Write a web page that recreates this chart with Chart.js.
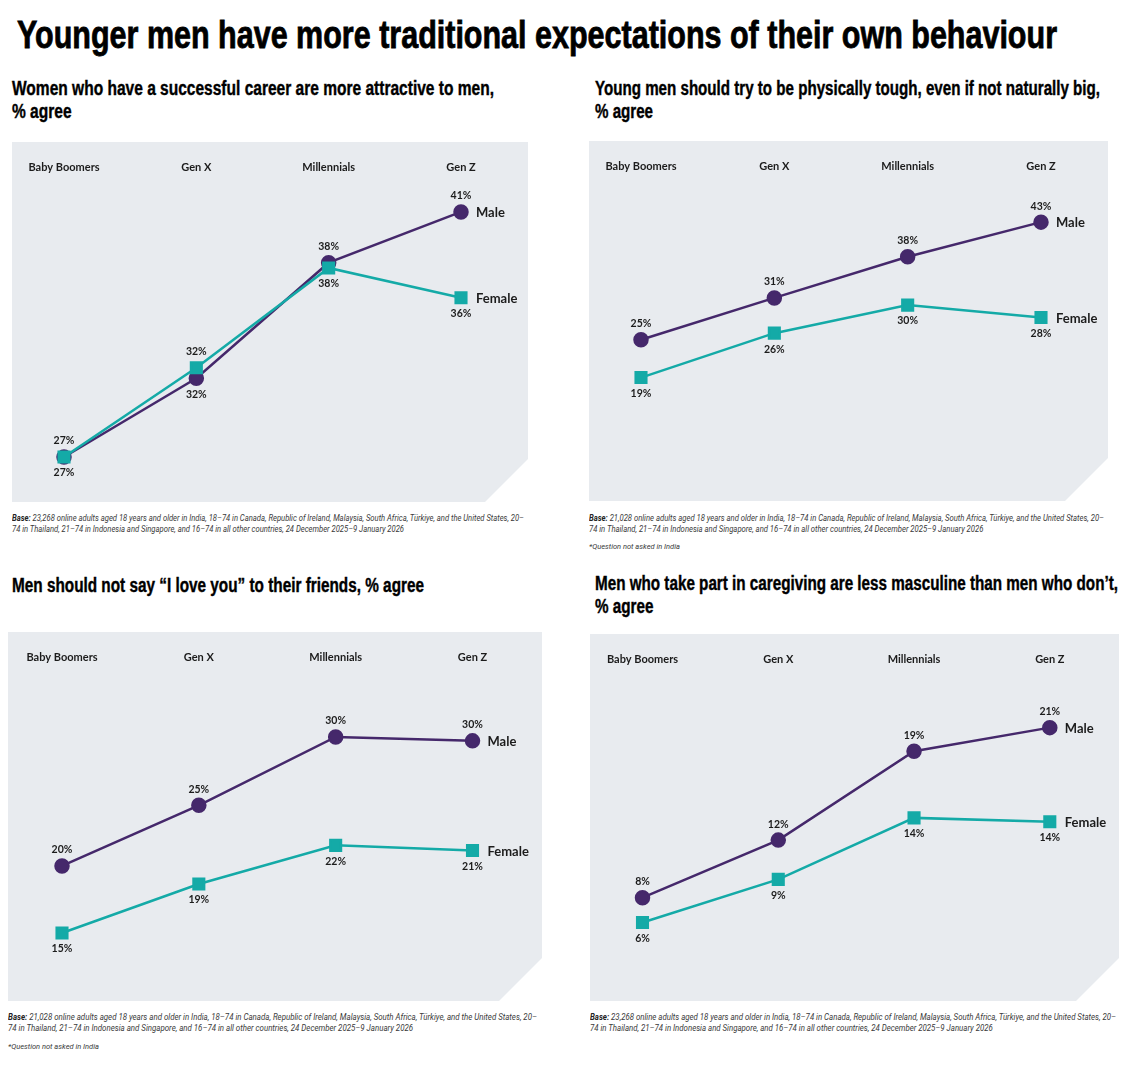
<!DOCTYPE html>
<html>
<head>
<meta charset="utf-8">
<script src="https://cdn.jsdelivr.net/npm/chart.js@4.4.1/dist/chart.umd.min.js"></script>
<style>
  html, body { margin: 0; padding: 0; background: #fff; }
  body { width: 1148px; height: 1082px; position: relative; overflow: hidden; color: #111; }
  .abs { position: absolute; white-space: pre; transform-origin: left top; }
  .title { font-family: "Liberation Sans Narrow", sans-serif; font-weight: bold; font-size: 38px; line-height: 44px; -webkit-text-stroke: 0.8px #000; color: #000; }
  .sub { font-family: "Liberation Sans Narrow", sans-serif; font-weight: bold; font-size: 20px; line-height: 23px; -webkit-text-stroke: 0.4px #000; color: #000; }
  .base { font-family: Roboto, sans-serif; font-style: italic; font-size: 8.5px; line-height: 11px; color: #3a3a3a; }
  .base b { font-weight: bold; color: #222; }
  .note { font-family: Roboto, sans-serif; font-style: italic; font-size: 7.5px; line-height: 11px; color: #3a3a3a; }
  .box { position: absolute; }
</style>
</head>
<body>

<div class="abs title fit" data-w="1040" style="left:17px; top:13px;">Younger men have more traditional expectations of their own behaviour</div>

<div class="abs sub fit" data-w="482" style="left:12px; top:77px;">Women who have a successful career are more attractive to men,
% agree</div>
<div class="abs sub fit" data-w="505" style="left:595px; top:77px;">Young men should try to be physically tough, even if not naturally big,
% agree</div>
<div class="abs sub fit" data-w="412" style="left:12px; top:574px;">Men should not say “I love you” to their friends, % agree</div>
<div class="abs sub fit" data-w="523" style="left:595px; top:572px;">Men who take part in caregiving are less masculine than men who don’t,
% agree</div>

<div class="box" style="left:12px; top:142px; width:516px; height:360px;"><canvas id="chart-career"></canvas></div>
<div class="box" style="left:589px; top:141px; width:519px; height:360px;"><canvas id="chart-tough"></canvas></div>
<div class="box" style="left:8px; top:632px; width:534px; height:369px;"><canvas id="chart-love"></canvas></div>
<div class="box" style="left:590px; top:634px; width:529px; height:367px;"><canvas id="chart-care"></canvas></div>

<div class="abs base fit" data-w="512" style="left:12px; top:513px;"><b>Base:</b> 23,268 online adults aged 18 years and older in India, 18–74 in Canada, Republic of Ireland, Malaysia, South Africa, Türkiye, and the United States, 20–
74 in Thailand, 21–74 in Indonesia and Singapore, and 16–74 in all other countries, 24 December 2025–9 January 2026</div>
<div class="abs base fit" data-w="515" style="left:589px; top:513px;"><b>Base:</b> 21,028 online adults aged 18 years and older in India, 18–74 in Canada, Republic of Ireland, Malaysia, South Africa, Türkiye, and the United States, 20–
74 in Thailand, 21–74 in Indonesia and Singapore, and 16–74 in all other countries, 24 December 2025–9 January 2026</div>
<div class="abs note" style="left:589px; top:541px;">*Question not asked in India</div>
<div class="abs base fit" data-w="529" style="left:8px; top:1012px;"><b>Base:</b> 21,028 online adults aged 18 years and older in India, 18–74 in Canada, Republic of Ireland, Malaysia, South Africa, Türkiye, and the United States, 20–
74 in Thailand, 21–74 in Indonesia and Singapore, and 16–74 in all other countries, 24 December 2025–9 January 2026</div>
<div class="abs note" style="left:8px; top:1041px;">*Question not asked in India</div>
<div class="abs base fit" data-w="526" style="left:590px; top:1012px;"><b>Base:</b> 23,268 online adults aged 18 years and older in India, 18–74 in Canada, Republic of Ireland, Malaysia, South Africa, Türkiye, and the United States, 20–
74 in Thailand, 21–74 in Indonesia and Singapore, and 16–74 in all other countries, 24 December 2025–9 January 2026</div>

<script>
// DATA
const generations = ['Baby Boomers', 'Gen X', 'Millennials', 'Gen Z'];

const careerMale = [27, 31.5, 38.1, 41];
const careerFemale = [27, 32.1, 37.8, 36.1];

const toughMale = [25, 31.4, 37.7, 43];
const toughFemale = [19.2, 26, 30.3, 28.4];

const loveMale = [20, 24.7, 30, 29.7];
const loveFemale = [14.8, 18.6, 21.6, 21.2];

const careMale = [8, 12.4, 19.2, 21];
const careFemale = [6.1, 9.4, 14.1, 13.8];

const MALE = '#45286b';
const FEMALE = '#14aaa7';

// grey panel with the bottom-right corner cut off
const panelBg = {
    id: 'panelBg',
    beforeDraw(chart) {
        const {ctx, width, height} = chart;
        const cut = 43;
        ctx.save();
        ctx.fillStyle = '#e8ebef';
        ctx.beginPath();
        ctx.moveTo(0, 0);
        ctx.lineTo(width, 0);
        ctx.lineTo(width, height - cut);
        ctx.lineTo(width - cut, height);
        ctx.lineTo(0, height);
        ctx.closePath();
        ctx.fill();
        ctx.restore();
    }
};

// % labels above the higher series, below the lower one, plus series names
const valueLabels = {
    id: 'valueLabels',
    afterDatasetsDraw(chart) {
        const {ctx, data} = chart;
        ctx.save();
        ctx.fillStyle = '#1c1c1c';
        ctx.textBaseline = 'middle';
        data.datasets.forEach((ds, i) => {
            const other = data.datasets[1 - i].data;
            const pts = chart.getDatasetMeta(i).data;
            ctx.font = '700 10.5px Lato';
            ctx.textAlign = 'center';
            pts.forEach((pt, j) => {
                const v = ds.data[j];
                const up = v > other[j] || (v === other[j] && i === 0);
                ctx.fillText(Math.round(v) + '%', pt.x, pt.y + (up ? -16 : 16));
            });
            const last = pts[pts.length - 1];
            ctx.font = '700 13px Lato';
            ctx.textAlign = 'left';
            ctx.fillText(ds.label, last.x + 15, last.y + 1);
        });
        ctx.restore();
    }
};

function makeChart(id, male, female, yMin, yMax, padLeft, padRight) {
    return new Chart(document.getElementById(id), {
        type: 'line',
        data: {
            labels: generations,
            datasets: [{
                label: 'Male',
                data: male,
                borderColor: MALE,
                backgroundColor: MALE,
                borderWidth: 2.5,
                pointStyle: 'circle',
                pointRadius: 6.5,
                pointHoverRadius: 6.5,
                order: 1
            }, {
                label: 'Female',
                data: female,
                borderColor: FEMALE,
                backgroundColor: FEMALE,
                borderWidth: 2.5,
                pointStyle: 'rect',
                pointRadius: 7.5,
                pointHoverRadius: 7.5,
                order: 0
            }]
        },
        options: {
            responsive: true,
            maintainAspectRatio: false,
            animation: false,
            layout: {
                autoPadding: false,
                padding: {left: padLeft, right: padRight, top: 0, bottom: 0}
            },
            scales: {
                x: {
                    position: 'top',
                    offset: false,
                    grid: {display: false, drawTicks: false},
                    border: {display: false},
                    ticks: {
                        color: '#1c1c1c',
                        font: {family: 'Lato', size: 11, weight: 'bold'},
                        padding: 8,
                        maxRotation: 0,
                        autoSkip: false
                    },
                    afterFit: (scale) => { scale.height = 40; }
                },
                y: {
                    display: false,
                    min: yMin,
                    max: yMax
                }
            },
            plugins: {
                legend: {display: false},
                tooltip: {enabled: false}
            }
        },
        plugins: [panelBg, valueLabels]
    });
}

makeChart('chart-career', careerMale, careerFemale, 24.43, 42.71, 52, 67);
makeChart('chart-tough', toughMale, toughFemale, 0.3, 49.3, 52, 67);
makeChart('chart-love', loveMale, loveFemale, 9.53, 35.04, 54, 69.5);
makeChart('chart-care', careMale, careFemale, 0.1, 25.1, 52.5, 69.2);

// squeeze text blocks to the widths of the original condensed typeface
function fitText() {
    document.querySelectorAll('.fit').forEach(el => {
        el.style.transform = 'none';
        const w = el.getBoundingClientRect().width;
        el.style.transform = 'scaleX(' + (el.dataset.w / w) + ')';
    });
}
fitText();
document.fonts.ready.then(fitText);
</script>
</body>
</html>
